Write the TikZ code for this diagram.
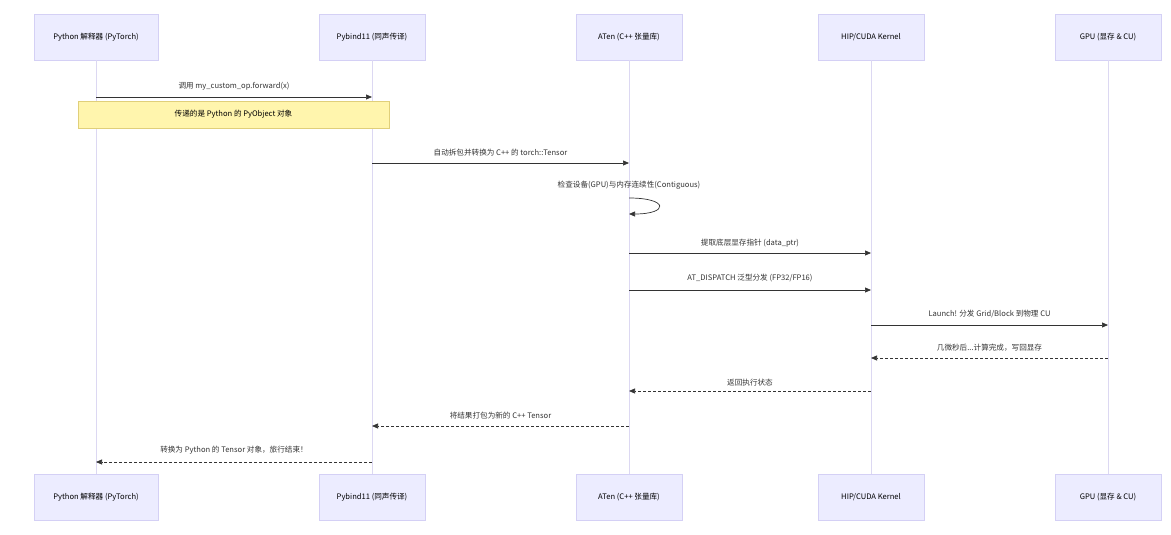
\documentclass[tikz,border=0pt]{standalone}
\usepackage{fontspec}
\setmainfont{Noto Sans CJK SC}
\usetikzlibrary{arrows.meta}
\definecolor{actfill}{HTML}{ECECFF}
\definecolor{actdraw}{HTML}{D4D0F5}
\definecolor{life}{HTML}{DCD8F2}
\definecolor{notefill}{HTML}{FFF5AD}
\definecolor{notedraw}{HTML}{E0CF7A}
\definecolor{ink}{HTML}{333333}
\begin{document}
\begin{tikzpicture}[x=1pt,y=-1pt,font=\fontsize{7.6}{9}\selectfont,
 actor/.style={draw=actdraw,fill=actfill,minimum width=106pt,minimum height=46pt,inner sep=0pt,text=black},
 lifeline/.style={draw=life,line width=0.8pt},
 msg/.style={draw=ink,line width=0.7pt,-{Triangle[length=6pt,width=5pt]}},
 ret/.style={msg,densely dashed},
 lbl/.style={text=ink,inner sep=1pt}]
\useasboundingbox (0,0) rectangle (1171,535);
\foreach \n/\x/\w/\t in {py/96/124/{Python 解释器 (PyTorch)},pb/372/106/{Pybind11 (同声传译)},at/629/106/{ATen (C++ 张量库)},hip/871/106/{HIP/CUDA Kernel},gpu/1108/106/{GPU (显存 \& CU)}}{
  \node[actor,minimum width=\w pt] (\n t) at (\x,37) {\t};
  \node[actor,minimum width=\w pt] (\n b) at (\x,497) {\t};
  \draw[lifeline] (\n t) -- (\n b);
}
\foreach \n/\x in {py/96,pb/372,at/629,hip/871,gpu/1108}{
  \foreach \y in {97,163,198,214,253,290,325,358,391,426,462}{
    \coordinate (\n\y) at (\x,\y);
  }
}
\draw[msg] (py97) -- node[lbl,above=5pt] {调用 my\_custom\_op.forward(x)} (pb97);
\node[draw=notedraw,fill=notefill,minimum width=311pt,minimum height=27pt,inner sep=0pt] (note) at (233.5,114.5) {传递的是 Python 的 PyObject 对象};
\draw[msg] (pb163) -- node[lbl,above=5pt] {自动拆包并转换为 C++ 的 torch::Tensor} (at163);
\node[lbl] (selflbl) at (629,185) {检查设备(GPU)与内存连续性(Contiguous)};
\draw[msg] (at198) .. controls ([xshift=40pt]at198) and ([xshift=40pt]at214) .. (at214);
\draw[msg] (at253) -- node[lbl,above=4pt] {提取底层显存指针 (data\_ptr)} (hip253);
\draw[msg] (at290) -- node[lbl,above=7pt] {AT\_DISPATCH 泛型分发 (FP32/FP16)} (hip290);
\draw[msg] (hip325) -- node[lbl,above=6pt] {Launch! 分发 Grid/Block 到物理 CU} (gpu325);
\draw[ret] (gpu358) -- node[lbl,above=5pt] {几微秒后...计算完成，写回显存} (hip358);
\draw[ret] (hip391) -- node[lbl,above=4pt] {返回执行状态} (at391);
\draw[ret] (at426) -- node[lbl,above=6pt] {将结果打包为新的 C++ Tensor} (pb426);
\draw[ret] (pb462) -- node[lbl,above=6pt] {转换为 Python 的 Tensor 对象，旅行结束！} (py462);
\end{tikzpicture}
\end{document}
